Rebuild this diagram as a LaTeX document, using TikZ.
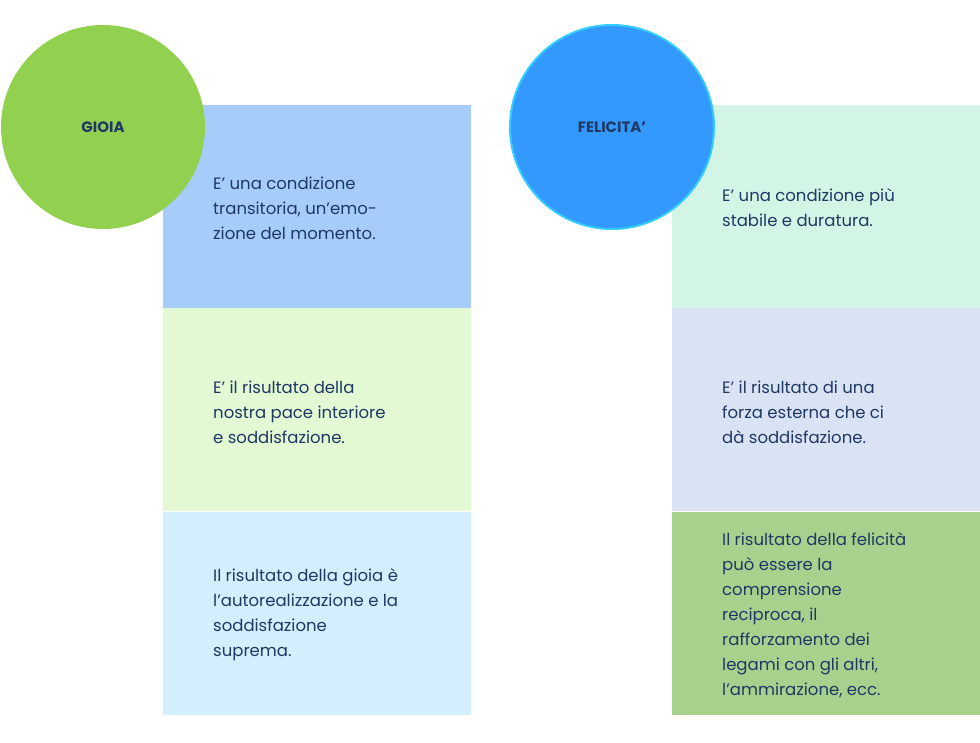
\documentclass[tikz,border=0pt]{standalone}
\usepackage{fontspec}
\setmainfont{Poppins}
\usetikzlibrary{positioning}
\definecolor{txtblue}{HTML}{1F3864}
\definecolor{gioiagreen}{HTML}{92D050}
\definecolor{felblue}{HTML}{3399FF}
\definecolor{felring}{HTML}{33CCFF}
\definecolor{boxa}{HTML}{A6CDF9}
\definecolor{boxb}{HTML}{E2F9D4}
\definecolor{boxc}{HTML}{D3EEFC}
\definecolor{boxd}{HTML}{D3F5E6}
\definecolor{boxe}{HTML}{D9E3F3}
\definecolor{boxf}{HTML}{A9D18E}
\tikzset{
  cell/.style={draw=none, minimum width=308pt, minimum height=203pt, inner sep=0pt},
  celltext/.style={text=txtblue, font=\fontsize{16.5}{25}\selectfont, align=left, anchor=west, inner sep=0pt},
  badge/.style={circle, minimum size=204pt, inner sep=0pt, text=txtblue, font=\fontsize{15}{18}\selectfont\bfseries}
}
\begin{document}
\begin{tikzpicture}[x=1pt,y=-1pt]
  \useasboundingbox (0,0) rectangle (980,742);
  % left column
  \node[cell, fill=boxa] (g1) at (317,206.5) {};
  \node[cell, fill=boxb] (g2) [below=0pt of g1] {};
  \node[cell, fill=boxc] (g3) [below=0pt of g2] {};
  % right column
  \node[cell, fill=boxd] (f1) at (825.5,206.5) {};
  \node[cell, fill=boxe] (f2) [below=0pt of f1] {};
  \node[cell, fill=boxf] (f3) [below=0pt of f2] {};
  % circles
  \node[badge, fill=gioiagreen] (gioia) at (103,127) {GIOIA};
  \node[badge, fill=felblue, draw=felring, line width=2pt] (felicita) at (612,127) {FELICITA'};
  % texts
  \node[celltext] (t1) at (213,208) {E' una condizione\\transitoria, un’emo-\\zione del momento.};
  \node[celltext] (t2) at (213,412) {E' il risultato della\\nostra pace interiore\\e soddisfazione.};
  \node[celltext] (t3) at (213,615) {Il risultato della gioia è\\l'autorealizzazione e la\\soddisfazione\\suprema.};
  \node[celltext] (t4) at (722,208) {E' una condizione più\\stabile e duratura.};
  \node[celltext] (t5) at (722,412) {E' il risultato di una\\forza esterna che ci\\dà soddisfazione.};
  \node[celltext] (t6) at (722,615) {Il risultato della felicità\\può essere la\\comprensione\\reciproca, il\\rafforzamento dei\\legami con gli altri,\\l'ammirazione, ecc.};
\end{tikzpicture}
\end{document}
